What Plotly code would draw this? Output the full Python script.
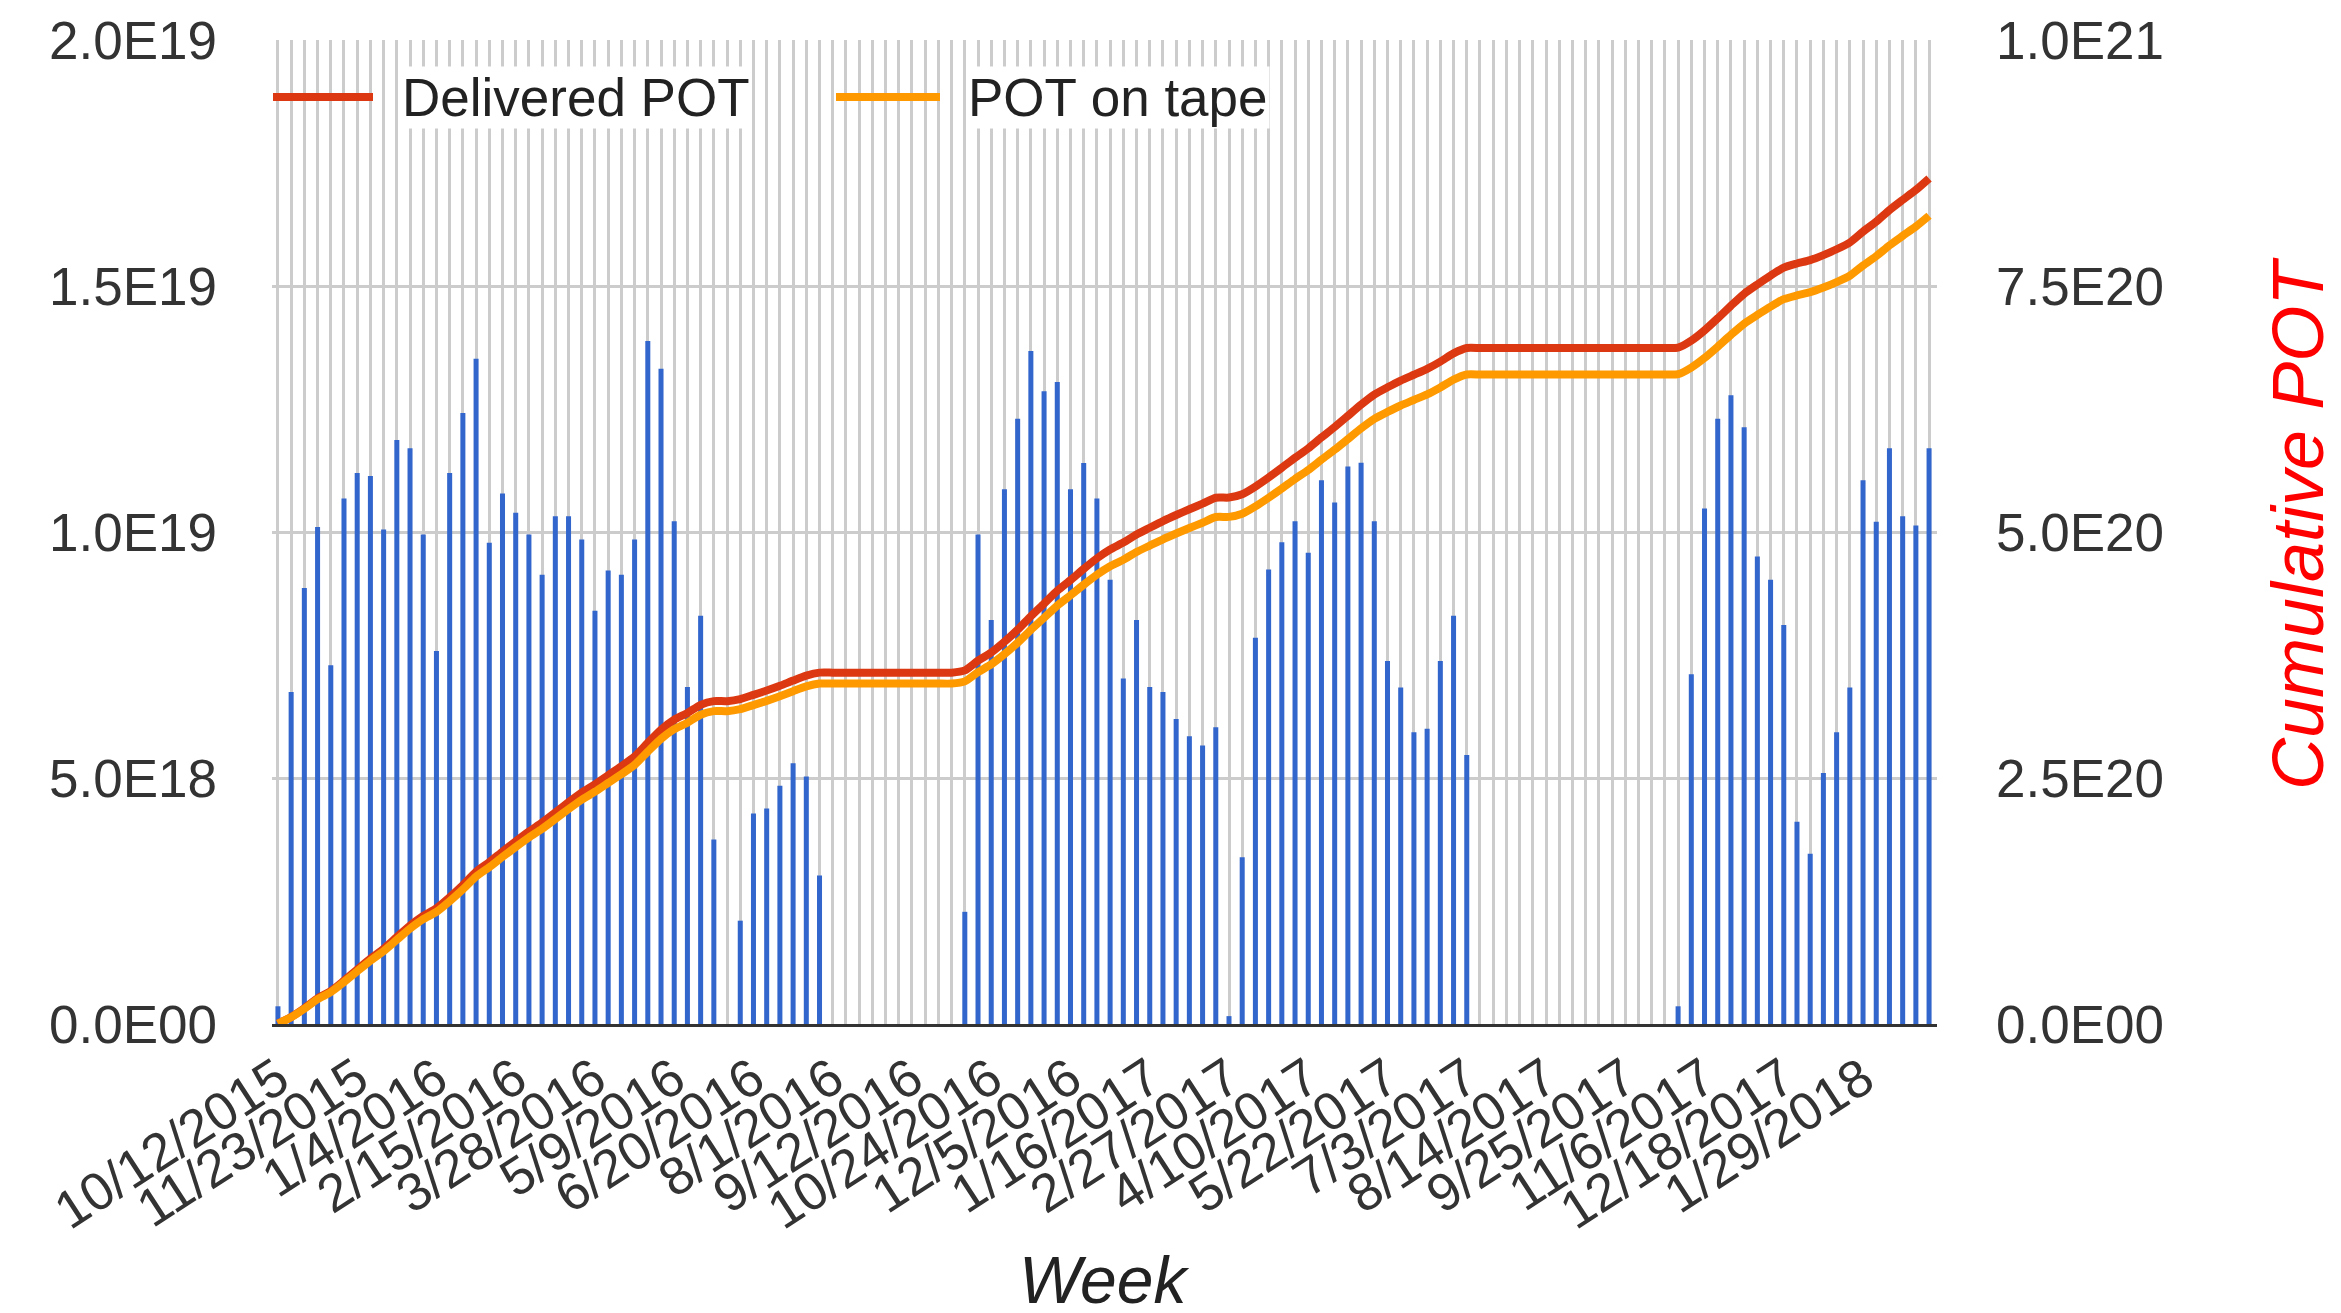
import numpy as np
import pandas as pd
import plotly.graph_objects as go

# ---------------- data ----------------
first_week = "2015-10-12"
n_weeks = 126
week_dates = pd.date_range(first_week, periods=n_weeks, freq="7D")
week_labels = [f"{d.month}/{d.day}/{d.year}" for d in week_dates]

# weekly delivered POT, in units of 1E18
weekly_pot_e18 = [
    0.36, 6.75, 8.86, 10.1, 7.29, 10.68, 11.2, 11.14, 10.05, 11.87, 11.7, 9.95,
    7.58, 11.2, 12.42, 13.52, 9.78, 10.78, 10.39, 9.95, 9.13, 10.32, 10.32, 9.85,
    8.4, 9.22, 9.13, 9.85, 13.88, 13.32, 10.22, 6.85, 8.3,
    3.75, 0.0, 2.1, 4.28, 4.38, 4.84, 5.3, 5.03, 3.02,
    0, 0, 0, 0, 0, 0, 0, 0, 0, 0,
    2.28, 9.95, 8.21, 10.87, 12.3, 13.68, 12.86, 13.05, 10.87, 11.4, 10.68, 9.03, 7.02,
    8.21, 6.85, 6.75, 6.2, 5.85, 5.66, 6.03, 0.16, 3.39, 7.85, 9.24, 9.79, 10.22,
    9.58, 11.05, 10.6, 11.33, 11.41, 10.22, 7.38, 6.84, 5.93, 6.0, 7.38, 8.3, 5.47,
    0, 0, 0, 0, 0, 0, 0, 0, 0, 0, 0, 0, 0, 0, 0,
    0.36, 7.11, 10.48, 12.3, 12.78, 12.13, 9.5, 9.03, 8.11, 4.11, 3.46, 5.1, 5.93,
    6.84, 11.05, 10.21, 11.7, 10.32, 10.13, 11.7,
]

run_first_week = ["10/12/2015", "10/10/2016", "10/23/2017"]
tape_fraction_per_run = [0.969, 0.952, 0.936]

tick_labels = ["10/12/2015", "11/23/2015", "1/4/2016", "2/15/2016", "3/28/2016",
               "5/9/2016", "6/20/2016", "8/1/2016", "9/12/2016", "10/24/2016",
               "12/5/2016", "1/16/2017", "2/27/2017", "4/10/2017", "5/22/2017",
               "7/3/2017", "8/14/2017", "9/25/2017", "11/6/2017", "12/18/2017",
               "1/29/2018"]

left_tickvals = [0, 5e18, 1e19, 1.5e19, 2e19]
left_ticktext = ["0.0E00", "5.0E18", "1.0E19", "1.5E19", "2.0E19"]
right_tickvals = [0, 2.5e20, 5e20, 7.5e20, 1e21]
right_ticktext = ["0.0E00", "2.5E20", "5.0E20", "7.5E20", "1.0E21"]

series_names = ["Delivered POT", "POT on tape"]

# ---------------- derived ----------------
weekly = np.array(weekly_pot_e18) * 1e18
run_starts = [week_labels.index(w) for w in run_first_week]
frac = np.zeros(n_weeks)
for i, s in enumerate(run_starts):
    e = run_starts[i + 1] if i + 1 < len(run_starts) else n_weeks
    frac[s:e] = tape_fraction_per_run[i]
delivered_cum = np.cumsum(weekly)
tape_cum = np.cumsum(weekly * frac)
xpos = np.arange(n_weeks)
tickvals = [week_labels.index(t) for t in tick_labels]

# ---------------- layout geometry ----------------
W, H = 2341, 1313
OFF = 8  # page body margin in the browser
# plot-area edges in page pixels
PL, PR, PT, PB = 272, 1937, 40, 1024
L, R, T, B = PL - OFF, PR - OFF, PT - OFF, PB - OFF
FONT = "Liberation Sans, Arial, sans-serif"
BLUE, RED, ORANGE = "#3366cc", "#dc3912", "#ff9900"
GRID = "#cccccc"


def px(xpage):
    return (xpage - PL) / (PR - PL)


def py(ypage):
    return (PB - ypage) / (PB - PT)


fig = go.Figure()
fig.add_trace(go.Bar(x=xpos, y=weekly, marker=dict(color=BLUE, line=dict(width=0)),
                     hovertext=week_labels, name="Weekly POT", showlegend=False))
fig.add_trace(go.Scatter(x=xpos, y=delivered_cum, yaxis="y2", mode="lines",
                         line=dict(color=RED, width=8, shape="spline", smoothing=0.6),
                         name=series_names[0], showlegend=False))
fig.add_trace(go.Scatter(x=xpos, y=tape_cum, yaxis="y2", mode="lines",
                         line=dict(color=ORANGE, width=8, shape="spline", smoothing=0.6),
                         name=series_names[1], showlegend=False))

tickfont = dict(family=FONT, size=53, color="#333333")

fig.update_layout(
    width=W, height=H,
    margin=dict(l=L, r=W - R, t=T, b=H - B, autoexpand=False),
    paper_bgcolor="white", plot_bgcolor="white",
    bargap=0.62,
    showlegend=False,
    xaxis=dict(
        range=[-0.45, 125.6], automargin=False,
        tickmode="array", tickvals=tickvals, ticktext=tick_labels,
        tickangle=-33, tickfont=tickfont, ticks="",
        showgrid=True, gridcolor=GRID, gridwidth=3,
        minor=dict(dtick=1, tick0=0, showgrid=True, gridcolor=GRID, gridwidth=3),
        zeroline=False, showline=True, linecolor="#333333", linewidth=3,
        ticklabelstandoff=0,
    ),
    yaxis=dict(
        range=[0, 2e19], automargin=False,
        tickmode="array", tickvals=left_tickvals, ticktext=left_ticktext,
        tickfont=tickfont, showgrid=True, gridcolor=GRID, gridwidth=3,
        zeroline=False, ticks="", ticklabelstandoff=54,
    ),
    yaxis2=dict(
        range=[0, 1e21], overlaying="y", side="right", automargin=False,
        tickmode="array", tickvals=right_tickvals, ticktext=right_ticktext,
        tickfont=tickfont, showgrid=False, zeroline=False, ticks="",
        ticklabelstandoff=58,
    ),
)

# legend (drawn with long line samples as in the original)
leg_y = py(97)
for (x0, x1, xt, color, name) in [(273, 373, 400, RED, series_names[0]),
                                  (836, 940, 966, ORANGE, series_names[1])]:
    fig.add_shape(type="line", xref="paper", yref="paper",
                  x0=px(x0), x1=px(x1), y0=leg_y, y1=leg_y,
                  line=dict(color=color, width=8))
    fig.add_annotation(text=name, xref="paper", yref="paper", x=px(xt), y=leg_y,
                       xanchor="left", yanchor="middle", showarrow=False,
                       bgcolor="white", font=dict(family=FONT, size=53, color="#222222"))

# axis titles
fig.add_annotation(text="Week", xref="paper", yref="paper", x=0.5, y=py(1280),
                   xanchor="center", yanchor="middle", showarrow=False,
                   font=dict(family=FONT, size=66, color="#222222", style="italic"))
fig.add_annotation(text="Cumulative POT", xref="paper", yref="paper", x=px(2298), y=py(524),
                   xanchor="center", yanchor="middle", textangle=-90, showarrow=False,
                   font=dict(family=FONT, size=72, color="#ff0000", style="italic"))

fig.write_html("out.html")
